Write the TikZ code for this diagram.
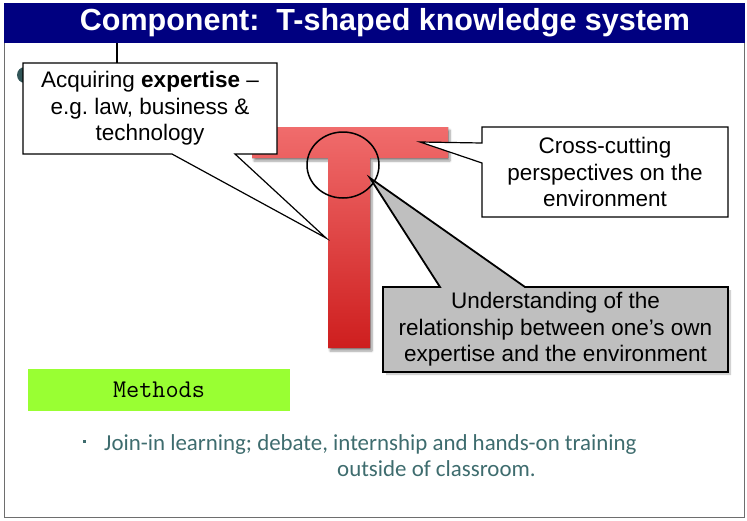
\documentclass[tikz,border=0pt]{standalone}
\usepackage{fontspec}
\setmainfont{Liberation Sans}
\newfontfamily\calfont{Carlito}
\usepackage{xcolor}
\usepackage{tikz}
\usetikzlibrary{shapes.geometric, shadows, shadows.blur, positioning, calc}
\definecolor{titlenavy}{RGB}{0, 0, 128}
\definecolor{teetop}{RGB}{240, 108, 108}
\definecolor{teebottom}{RGB}{206, 30, 30}
\definecolor{calloutgray}{RGB}{191, 191, 191}
\definecolor{methodgreen}{RGB}{153, 255, 51}
\definecolor{bulletteal}{RGB}{62, 108, 110}
\definecolor{framegray}{RGB}{110, 110, 110}

\begin{document}
\begin{tikzpicture}[x=1pt, y=-1pt,
    calloutline/.style={draw=black, fill=white, line width=1.2pt, line join=miter},
    calltext/.style={inner sep=0pt, align=center, font=\fontsize{22.5}{26.5}\selectfont},
    bodytext/.style={anchor=base west, inner sep=0pt, text=bulletteal,
                     font=\calfont\fontsize{22.9}{27}\selectfont}]
    \useasboundingbox (0,0) rectangle (747,520);

    % slide frame and title bar
    \draw[framegray, line width=0.8pt] (4,4) rectangle (744,517);
    \node[fill=titlenavy, anchor=north west, inner sep=0pt,
          minimum width=741pt, minimum height=40pt] (title) at (4,3) {};
    \node[text=white, font=\fontsize{30.5}{33}\selectfont\bfseries] (titletext) at (385,23)
        {Component:\ \ T-shaped knowledge system};

    % bullet hidden behind the first callout
    \fill[bulletteal!80!black] (25,75) circle (8);

    % the T
    \fill[top color=teetop, bottom color=teebottom,
          blur shadow={shadow xshift=2pt, shadow yshift=-3pt, shadow blur steps=6}]
        (252,127) -- (448,127) -- (448,158) -- (370,158) -- (370,348)
        -- (328,348) -- (328,158) -- (252,158) -- cycle;
    \node[draw, ellipse, line width=1.5pt, minimum width=72pt, minimum height=66pt,
          inner sep=0pt] (joint) at (343,165) {};

    % callout tips
    \coordinate (tipA) at (326,238);
    \coordinate (tipB) at (420,142);
    \coordinate (tipC) at (370,178);

    % callout: expertise
    \draw[calloutline] (23,63) -- (277,63) -- (277,154) -- (235,154) -- (tipA)
        -- (172,154) -- (23,154) -- cycle;
    \node[calltext, minimum width=254pt, minimum height=91pt] (expertise) at (150,108.5)
        {Acquiring \textbf{expertise} --\\e.g.\ law, business \&\\technology};

    % callout: cross-cutting
    \draw[calloutline] (482,127) -- (728,127) -- (728,217) -- (482,217) -- (482,163)
        -- (tipB) -- (482,143) -- cycle;
    \node[calltext, minimum width=246pt, minimum height=90pt] (crosscut) at (605,172)
        {Cross-cutting\\perspectives on the\\environment};

    % callout: relationship
    \draw[calloutline, fill=calloutgray, line width=1.8pt,
          drop shadow={shadow xshift=3pt, shadow yshift=-3pt, fill=gray!70}]
        (383,287) -- (440,287) -- (tipC) -- (525,287) -- (728,287) -- (728,372)
        -- (383,372) -- cycle;
    \node[calltext, minimum width=345pt, minimum height=85pt] (relation) at (555.5,329.5)
        {Understanding of the\\relationship between one’s own\\expertise and the environment};

    \coordinate (stub) at (117,0);
    \draw[line width=1.2pt] (title.south -| stub) -- (expertise.north -| stub);

    % methods
    \node[fill=methodgreen, minimum width=262pt, minimum height=42pt, inner sep=0pt,
          font=\ttfamily\fontsize{25.5}{28}\selectfont] (methods) at (159,390) {Methods};
    \node[bodytext] (join) at (104,450) {Join-in learning; debate, internship and hands-on training};
    \node[bodytext] (outside) at (337,476) {outside of classroom.};
    \node[fill=bulletteal, minimum size=3pt, inner sep=0pt] (dot) at (84,441) {};
\end{tikzpicture}
\end{document}
